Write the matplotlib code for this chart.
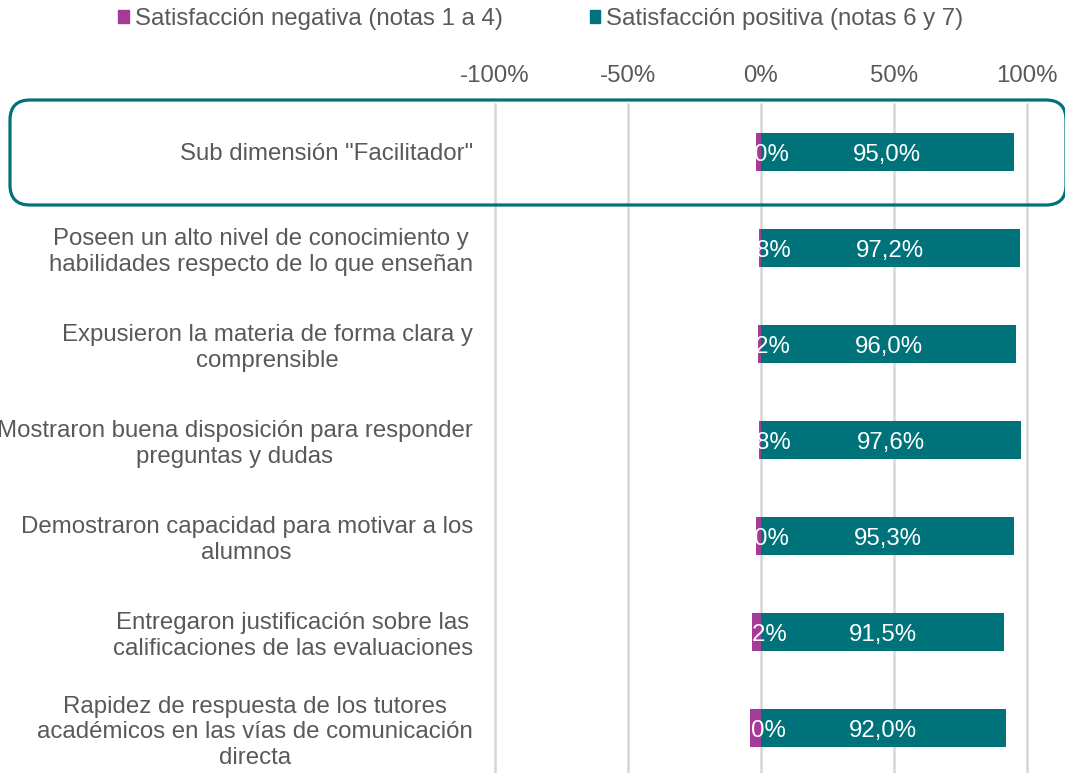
import matplotlib
matplotlib.use('Agg')
import matplotlib.pyplot as plt
from matplotlib.patches import Patch, FancyBboxPatch
from matplotlib.transforms import IdentityTransform

plt.rcParams['font.family'] = ['Liberation Sans', 'DejaVu Sans']

categories = [
    'Sub dimensión "Facilitador"',
    'Poseen un alto nivel de conocimiento y\nhabilidades respecto de lo que enseñan',
    'Expusieron la materia de forma clara y\ncomprensible',
    'Mostraron buena disposición para responder\npreguntas y dudas',
    'Demostraron capacidad para motivar a los\nalumnos',
    'Entregaron justificación sobre las\ncalificaciones de las evaluaciones',
    'Rapidez de respuesta de los tutores\nacadémicos en las vías de comunicación\ndirecta',
]
negativa = [-2.0, -0.8, -1.2, -0.8, -2.0, -3.2, -4.0]
positiva = [95.0, 97.2, 96.0, 97.6, 95.3, 91.5, 92.0]
xticks = [-100, -50, 0, 50, 100]

NEG_COLOR = '#A43B96'
POS_COLOR = '#00727A'
TEXT_GRAY = '#595959'
FS = 17.3


def fmt(v):
    return f'{v:.1f}'.replace('.', ',') + '%'


fig = plt.figure(figsize=(10.65, 7.73), dpi=100)
ax = fig.add_axes([495 / 1065, -3 / 773, 532 / 1065, 672 / 773])

y = list(range(len(categories)))
ax.barh(y, negativa, height=0.4, color=NEG_COLOR, zorder=2)
ax.barh(y, positiva, height=0.4, color=POS_COLOR, zorder=2)

# etiquetas blancas (la parte fuera de la barra queda invisible sobre fondo blanco)
for yi, n, p in zip(y, negativa, positiva):
    ax.text(n / 2, yi, fmt(n), color='white', ha='center', va='center_baseline',
            fontsize=FS, zorder=3)
    ax.text(p / 2, yi, fmt(p), color='white', ha='center', va='center_baseline',
            fontsize=FS, zorder=3)

ax.set_xlim(-100, 100)
ax.set_ylim(len(categories) - 0.5, -0.5)
ax.set_xticks(xticks)
ax.set_xticklabels([f'{t}%' for t in xticks])
ax.xaxis.tick_top()
ax.set_yticks(y)
ax.set_yticklabels(categories, multialignment='center')
ax.tick_params(axis='both', length=0, labelsize=FS, labelcolor=TEXT_GRAY)
ax.tick_params(axis='x', pad=12)
ax.tick_params(axis='y', pad=16)
ax.grid(axis='x', color='#D6D6D6', linewidth=1.8, zorder=0)
ax.set_axisbelow(True)
for gl in ax.get_xgridlines():
    gl.set_clip_on(False)
for s in ax.spines.values():
    s.set_visible(False)

# recuadro de la sub dimensión
box = FancyBboxPatch((10, 773 - 205), 1056, 105,
                     boxstyle='round,pad=0,rounding_size=20',
                     transform=IdentityTransform(), fill=False,
                     edgecolor=POS_COLOR, linewidth=2.3, clip_on=False)
fig.add_artist(box)

handles = [Patch(color=NEG_COLOR, label='Satisfacción negativa (notas 1 a 4)'),
           Patch(color=POS_COLOR, label='Satisfacción positiva (notas 6 y 7)')]
leg = fig.legend(handles=handles, loc='center', bbox_to_anchor=(0.508, 0.975),
                 ncol=2, frameon=False, fontsize=FS, handlelength=0.45,
                 handleheight=0.45, handletextpad=0.25, columnspacing=3.6,
                 borderpad=0)
for t in leg.get_texts():
    t.set_color(TEXT_GRAY)

plt.savefig('out.png', dpi=100)
